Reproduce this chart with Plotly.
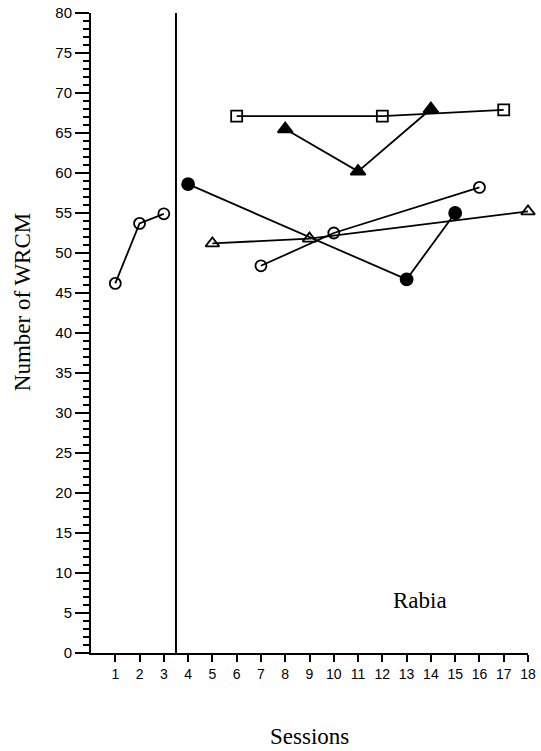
import plotly.graph_objects as go

# ── Data ────────────────────────────────────────────────────────────────────
baseline_x = [1, 2, 3]
baseline_y = [46.2, 53.7, 54.9]

filled_circle_x = [4, 13, 15]
filled_circle_y = [58.6, 46.7, 55.0]

open_triangle_x = [5, 9, 18]
open_triangle_y = [51.2, 51.8, 55.2]

square_x = [6, 12, 17]
square_y = [67.1, 67.1, 67.9]

open_circle_x = [7, 10, 16]
open_circle_y = [48.4, 52.5, 58.2]

filled_triangle_x = [8, 11, 14]
filled_triangle_y = [65.5, 60.2, 68.0]

x_ticks = list(range(1, 19))
phase_change = 3.5

SERIF = "Liberation Serif, Times New Roman, serif"
SANS = "Liberation Sans, Arial, sans-serif"

series = [
    (baseline_x, baseline_y, "circle-open", 11),
    (filled_circle_x, filled_circle_y, "circle", 12),
    (open_triangle_x, open_triangle_y, "triangle-up-open", 12),
    (square_x, square_y, "square-open", 11),
    (open_circle_x, open_circle_y, "circle-open", 11),
    (filled_triangle_x, filled_triangle_y, "triangle-up", 13),
]

fig = go.Figure()
for xs, ys, sym, size in series:
    fig.add_trace(go.Scatter(
        x=xs, y=ys, mode="lines+markers",
        line=dict(color="black", width=1.8),
        marker=dict(symbol=sym, size=size, color="black",
                    line=dict(color="black", width=1.8)),
        cliponaxis=False, showlegend=False,
    ))

# phase-change line
fig.add_shape(type="line", xref="x", yref="y",
              x0=phase_change, x1=phase_change, y0=0, y1=80,
              line=dict(color="black", width=2))

fig.add_annotation(x=13.55, y=6.6, xref="x", yref="y", text="Rabia",
                   showarrow=False, font=dict(family=SERIF, size=23, color="black"))
fig.add_annotation(x=0.5, y=-0.13, xref="paper", yref="paper", text="Sessions",
                   showarrow=False, yanchor="middle",
                   font=dict(family=SERIF, size=23, color="black"))
fig.add_annotation(x=-0.158, y=0.548, xref="paper", yref="paper", text="Number of WRCM",
                   showarrow=False, textangle=-90, xanchor="center",
                   font=dict(family=SERIF, size=23, color="black"))

fig.update_xaxes(
    range=[0, 18], tickvals=x_ticks, ticks="outside", ticklen=7, tickwidth=2,
    tickcolor="black", showline=True, linewidth=2, linecolor="black",
    showgrid=False, zeroline=False, automargin=False,
    tickfont=dict(family=SANS, size=14, color="black"),
)
fig.update_yaxes(
    range=[0, 80], dtick=5, ticks="outside", ticklen=14, tickwidth=2,
    tickcolor="black", showline=True, linewidth=2, linecolor="black",
    showgrid=False, zeroline=False, automargin=False,
    minor=dict(dtick=1, ticks="outside", ticklen=6, tickwidth=2, tickcolor="black"),
    tickfont=dict(family=SANS, size=15, color="black"),
)
fig.update_layout(
    width=541, height=751,
    margin=dict(l=91, r=13, t=13, b=98),
    plot_bgcolor="white", paper_bgcolor="white",
)

fig.write_html("out.html", config={"displayModeBar": False},
               post_script="document.body.style.margin='0';")
